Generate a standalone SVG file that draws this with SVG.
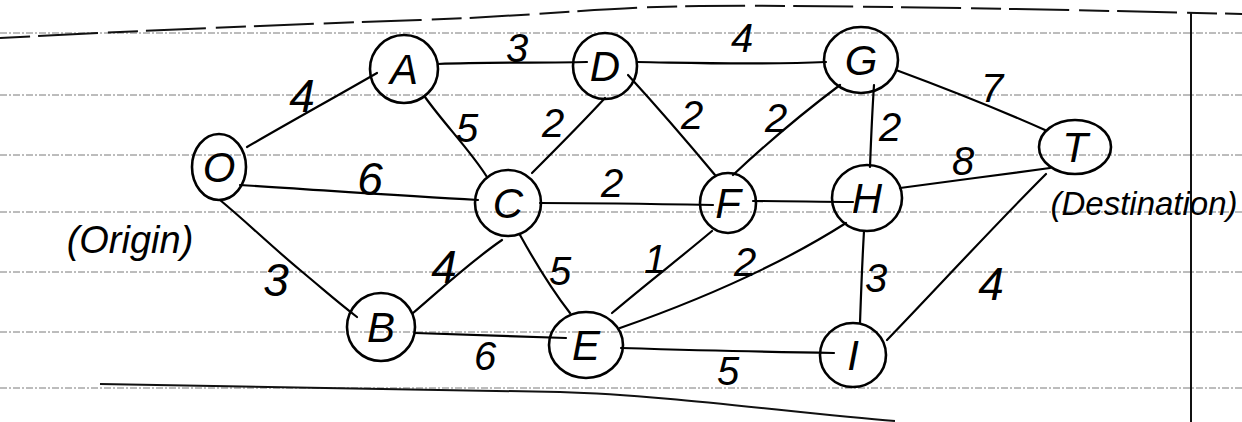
<svg xmlns="http://www.w3.org/2000/svg" width="1242" height="422" viewBox="0 0 1242 422">
<style>
.rule{stroke:#7a7a7a;stroke-width:1;stroke-dasharray:7 2 2 2;fill:none}
.page{stroke:#111;stroke-width:2;fill:none}
.node{fill:none;stroke:#000;stroke-width:2.6}
.edge{fill:none;stroke:#000;stroke-width:2.2;stroke-linecap:round}
.nl{font-family:"Liberation Sans",Arial,sans-serif;font-style:italic;font-size:42px;fill:#000;text-anchor:middle}
.w{font-family:"Liberation Sans",Arial,sans-serif;font-style:italic;font-size:40px;fill:#000;text-anchor:middle}
.big{font-size:46px}
.note{font-family:"Liberation Sans",Arial,sans-serif;font-style:italic;font-size:33px;fill:#000;text-anchor:middle}
</style>
<rect width="1242" height="422" fill="#fff"/>
<g id="page">
<path class="rule" d="M0 33H1242M0 95H1242M0 155H1242M0 212H1242M0 272H1242M0 332H1242M0 388H1242"/>
<path class="page" stroke-dasharray="30 8 60 10" d="M0 38 C150 30 300 24 420 20 S600 7 700 6 S1000 8 1242 14"/>
<path class="page" d="M1191 12V422"/>
<path class="page" stroke-width="2.5" d="M100 384 C300 387 450 389 560 392 S800 414 895 421"/>
</g>
<g id="connectors">
<path class="edge" d="M247 147 C290 122 330 100 377 73"/>
<path class="edge" d="M240 185 C320 190 400 196 478 200"/>
<path class="edge" d="M220 200 C250 225 270 245 300 270 S335 300 357 317"/>
<path class="edge" d="M438 64 C490 62 540 63 587 62"/>
<path class="edge" d="M425 97 C445 125 470 150 487 177"/>
<path class="edge" d="M605 98 C580 125 555 150 532 173"/>
<path class="edge" d="M637 62 C700 63 760 65 826 62"/>
<path class="edge" d="M628 75 C660 110 690 145 715 175"/>
<path class="edge" d="M840 85 C800 115 765 145 733 175"/>
<path class="edge" d="M874 85 C872 115 871 140 870 167"/>
<path class="edge" d="M896 70 C950 90 1000 110 1045 130"/>
<path class="edge" d="M900 188 C950 181 1000 175 1050 168"/>
<path class="edge" d="M540 203 C600 203 660 204 713 205"/>
<path class="edge" d="M753 201 C790 201 820 202 853 202"/>
<path class="edge" d="M502 240 C470 262 440 290 413 313"/>
<path class="edge" d="M520 235 C535 262 552 290 570 313"/>
<path class="edge" d="M612 313 C645 285 680 258 712 231"/>
<path class="edge" d="M620 328 C700 300 780 265 846 223"/>
<path class="edge" d="M415 333 C470 335 520 336 566 338"/>
<path class="edge" d="M621 348 C690 350 760 352 834 353"/>
<path class="edge" d="M864 231 C862 265 861 295 860 323"/>
<path class="edge" d="M1046 174 C990 230 940 285 887 340"/>
</g>
<g id="node-O"><ellipse class="node" cx="219" cy="167" rx="27" ry="33"/><text class="nl" x="219" y="182">O</text></g>
<g id="node-A"><ellipse class="node" cx="404" cy="69" rx="34" ry="34"/><text class="nl" x="404" y="84">A</text></g>
<g id="node-D"><ellipse class="node" cx="605" cy="66" rx="32" ry="33"/><text class="nl" x="605" y="81">D</text></g>
<g id="node-G"><ellipse class="node" cx="861" cy="60" rx="37" ry="33"/><text class="nl" x="861" y="75">G</text></g>
<g id="node-C"><ellipse class="node" cx="508" cy="203" rx="33" ry="33"/><text class="nl" x="508" y="218">C</text></g>
<g id="node-F"><ellipse class="node" cx="728" cy="203" rx="28" ry="30"/><text class="nl" x="728" y="218">F</text></g>
<g id="node-H"><ellipse class="node" cx="867" cy="198" rx="35" ry="33"/><text class="nl" x="867" y="213">H</text></g>
<g id="node-T"><ellipse class="node" cx="1075" cy="147" rx="36" ry="27"/><text class="nl" x="1075" y="162">T</text></g>
<g id="node-B"><ellipse class="node" cx="381" cy="327" rx="34" ry="34"/><text class="nl" x="381" y="342">B</text></g>
<g id="node-E"><ellipse class="node" cx="586" cy="345" rx="37" ry="33"/><text class="nl" x="586" y="360">E</text></g>
<g id="node-I"><ellipse class="node" cx="853" cy="355" rx="33" ry="32"/><text class="nl" x="853" y="370">I</text></g>
<g id="weights">
<text class="w big" x="302" y="112">4</text>
<text class="w" x="517" y="62">3</text>
<text class="w" x="742" y="52">4</text>
<text class="w" x="992" y="102">7</text>
<text class="w" x="467" y="142">5</text>
<text class="w" x="553" y="137">2</text>
<text class="w" x="692" y="129">2</text>
<text class="w" x="776" y="132">2</text>
<text class="w" x="890" y="141">2</text>
<text class="w" x="963" y="175">8</text>
<text class="w big" x="370" y="195">6</text>
<text class="w big" x="276" y="296">3</text>
<text class="w big" x="444" y="283">4</text>
<text class="w" x="612" y="197">2</text>
<text class="w" x="560" y="285">5</text>
<text class="w" x="655" y="273">1</text>
<text class="w" x="745" y="276">2</text>
<text class="w" x="876" y="292">3</text>
<text class="w big" x="991" y="300">4</text>
<text class="w" x="485" y="370">6</text>
<text class="w" x="728" y="385">5</text>
</g>
<g id="notes">
<text class="note" x="130" y="253" style="font-size:38px">(Origin)</text>
<text class="note" x="1144" y="215">(Destination)</text>
</g>
</svg>
